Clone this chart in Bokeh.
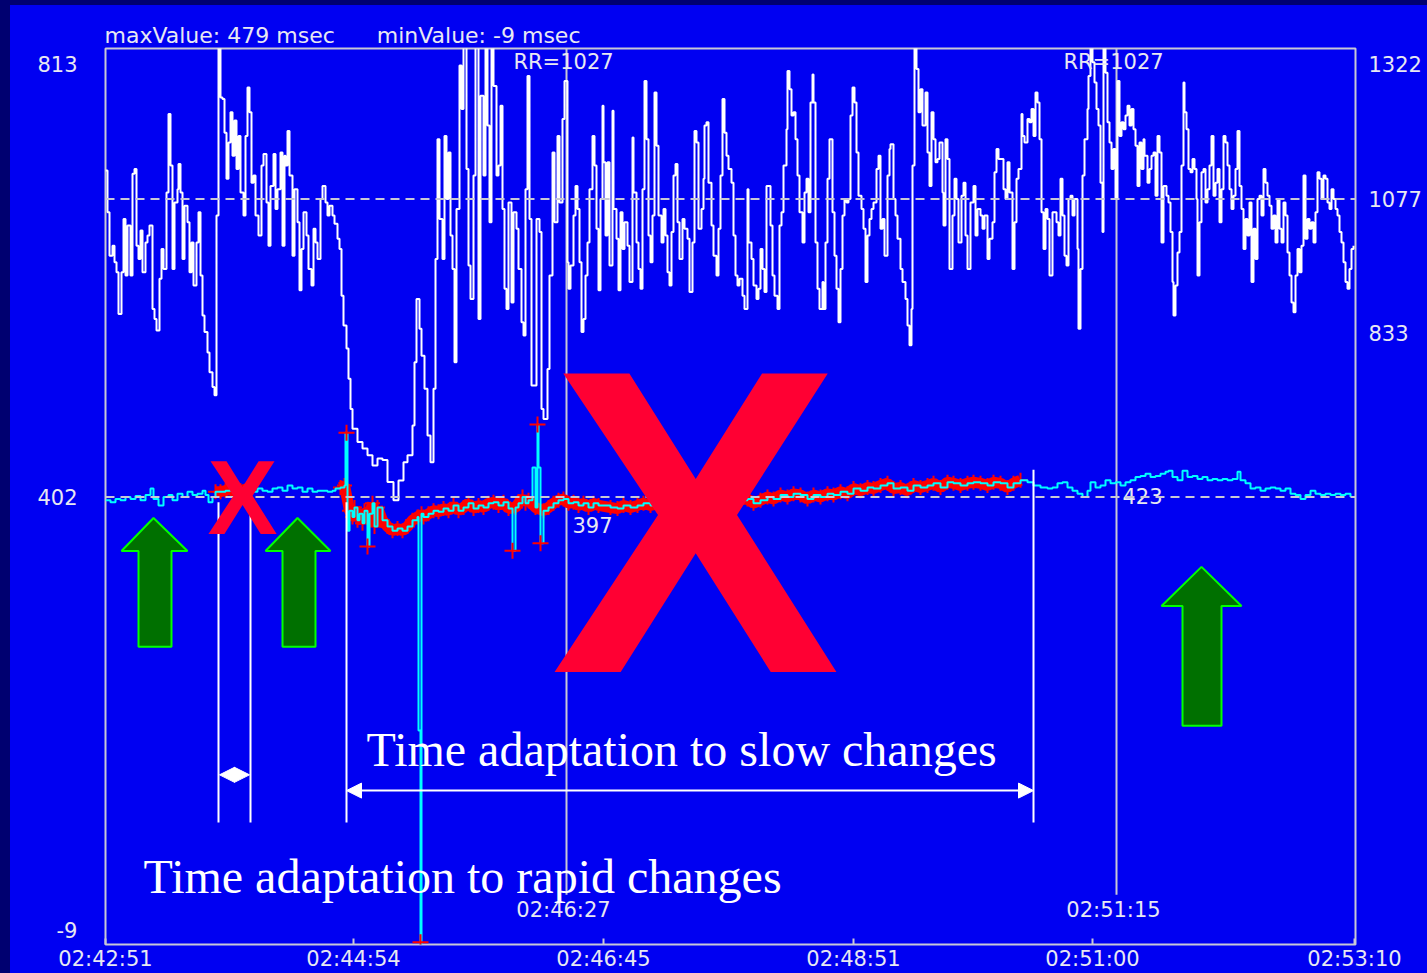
import statistics
from bokeh.plotting import figure
from bokeh.models import Range1d, LinearAxis, FixedTicker, Label, Arrow, NormalHead
from bokeh.core.properties import value
from bokeh.embed import file_html
from bokeh.resources import INLINE

# ---------------- data ----------------
# RR intervals (white trace, right axis), x = beat sample index
rr_beat = [0,2,4,7,9,11,13,16,18,20,22,25,27,29,31,33,35,37,40,42,44,47,49,51,54,56,58,61,63,65,
           67,69,72,73,75,77,79,82,84,86,88,91,93,95,97,99,102,104,107,109,111,113,115,117,119,121,123,125,127,129,
           131,133,135,138,140,142,144,146,148,150,153,156,158,161,163,165,168,170,172,175,177,179,180,182,184,187,189,192,194,196,
           198,201,203,206,208,210,212,215,217,220,222,224,227,229,232,234,236,238,241,243,245,247,252,257,262,267,272,277,282,288,
           293,298,302,307,309,311,314,316,319,322,325,328,330,332,334,337,339,341,343,345,347,349,351,354,356,358,361,363,365,368,
           370,373,375,378,380,382,384,386,388,391,393,395,397,399,401,403,406,408,411,413,416,418,420,422,424,426,429,431,434,436,
           438,442,444,
           447,449,452,454,457,459,462,463,465,468,470,472,474,476,478,480,482,484,487,489,491,493,495,497,498,500,502,504,507,508,
           511,513,515,517,519,522,524,527,528,531,533,535,537,539,541,543,545,547,549,551,553,556,558,560,562,564,566,568,570,572,
           574,577,579,582,584,587,589,591,593,596,598,599,601,603,606,608,611,613,615,617,619,621,623,626,628,630,632,634,637,639,
           642,643,646,648,651,653,655,657,659,661,663,665,667,669,672,674,676,678,681,682,684,686,688,690,692,694,697,699,701,703,
           705,707,708,710,712,714,717,718,720,722,724,727,729,731,733,735,737,739,741,743,745,747,749,751,753,756,758,760,762,764,
           766,768,771,773,775,777,779,782,784,785,788,790,792,795,797,800,802,804,806,807,809,811,813,815,817,820,822,824,826,828,
           830,832,834,837,838,840,842,844,847,849,851,853,856,858,860,862,865,868,870,872,875,877,879,882,884,887,889,891,893,
           898,900,902,904,907,909,911,913,916,917,919,922,924,926,928,930,932,934,936,938,940,942,944,947,951,953,955,957,959,961,
           963,965,967,969,972,973,975,977,979,982,983,985,987,989,991,993,995,997,998,1000,1002,1004,1006,1008,1010,1012,1014,1016,1018,1020,
           1022,1024,1026,1028,1030,1032,1034,1036,1038,1039,1042,1044,1046,1048,1050,1052,1054,1056,1058,1061,1063,1065,1067,1068,1070,1072,1074,1076,1078,1079,
           1081,1083,1085,1087,1089,1091,1092,1094,1096,1098,1100,1102,1104,1106,1108,1110,1112,1114,1116,1118,1120,1122,1124,1126,1128,1130,1132,1134,1136,1138,
           1140,1142,1144,1146,1148,1150,1152,1154,1156,1158,1160,1162,1164,1166,1168,1170,1172,1174,1176,1178,1180,1182,1184,1186,1188,1190,1192,1194,1196,1198,
           1200,1202,1204,1206,1208,1210,1212,1214,1216,1218,1220,1222,1224,1226,1228,1230,1232,1234,1236,1238,1240,1242,1244,1246,1248]
rr_msec = [1129,1053,974,992,962,944,868,944,1041,938,1029,938,1123,1132,992,968,1020,944,998,1011,1029,877,859,838,932,986,950,1089,1232,1138,
           950,1071,1095,1141,1089,968,1065,1035,944,998,920,998,1053,938,865,835,798,762,735,720,1047,1365,1262,1259,1198,1114,1180,1235,1156,1220,
           1132,1192,1089,1047,1192,1280,1235,1107,1120,1047,1011,1138,1159,1071,992,1101,1159,1059,1095,1162,992,1156,1138,1201,1120,974,1095,1035,911,986,
           1053,1011,950,920,1023,998,968,1077,1101,1071,1047,1065,1047,1032,1005,986,901,847,805,750,695,659,635,623,611,592,605,602,562,529,
           565,598,611,665,780,895,841,792,732,647,598,732,968,1186,1041,968,1192,1077,1162,1011,950,780,1059,1320,1241,1365,1132,956,895,1120,
           1365,859,1265,1120,1365,1211,1035,1365,1283,1120,1138,1247,1059,914,877,1071,889,1053,1023,950,853,829,1095,1301,1041,738,738,1041,1017,695,
           677,768,938,
           1162,1035,1192,1071,1223,1292,962,914,956,1047,1101,1059,962,835,859,938,998,1095,1192,1138,1023,911,1077,1247,1144,1011,1144,956,1238,1059,
           1005,911,1053,986,1035,992,926,1189,1089,998,950,914,1095,1292,1186,1011,962,1047,1271,1174,1047,998,1059,1011,944,920,1017,1120,1141,1035,
           968,1041,1023,1005,908,998,1201,1180,1023,1059,1114,1211,1217,1107,1029,974,938,1023,1120,1259,1198,1156,1132,1107,1011,938,920,932,901,877,
           1095,998,968,920,895,914,986,950,908,1101,1101,1029,938,901,877,1029,1053,1138,1204,1310,1277,1229,1235,1186,1120,1053,998,1089,1114,1053,
           1253,1304,1253,998,914,877,926,877,998,1114,1186,1053,974,914,853,950,1047,1077,1071,1077,1229,1280,1253,1162,1083,1059,1023,926,1011,1041,
           1059,1071,1132,1156,1023,1041,974,1120,1168,1177,1077,1047,1005,950,926,895,847,811,877,1138,1365,1314,1235,1277,1211,1271,1162,1101,1235,1186,
           1144,1150,1180,1089,1029,1186,1150,950,1047,1114,1077,998,1083,1107,1011,950,1071,1101,1011,1059,1047,1023,1047,968,1005,1035,1126,1168,1150,
           1095,1077,1144,1089,950,1035,1114,1132,1232,1192,1180,1223,1217,1241,1192,1271,1253,1186,1053,986,1059,1041,938,1053,1035,1011,1114,1047,974,956,
           1077,1083,1047,1077,986,841,950,1120,1186,1241,1301,1365,1326,1289,1241,1211,1107,1017,1365,1307,1217,1180,1132,1168,1077,1292,1192,1217,1204,1229,
           1247,1211,1241,1204,1174,1101,1180,1132,1186,1156,1107,1132,1156,1162,1083,1192,1162,998,1101,1083,1071,1017,926,865,920,980,1017,1138,1289,1235,
           1204,1132,1126,1150,1132,1077,938,1035,1126,1132,1071,1095,1138,1192,1083,1107,1132,1035,1095,1192,1180,1138,1095,1059,1083,1132,1201,1101,1059,986,
           1041,1011,1071,926,1023,968,1077,1083,1047,1132,1107,1083,1065,1023,1047,998,1077,1023,998,1071,1047,980,938,889,871,938,986,944,992,1120,
           1005,1041,1023,1035,998,1053,1126,1114,1077,1120,1114,1071,1059,1095,1077,1059,1047,1017,998,962,926,914,950,986,992]

# lower trace (cyan, left axis)
dev_beat = [0,5,10,15,20,25,30,35,40,45,48,53,58,63,67,72,77,82,87,92,
            97,100,103,107,110,115,120,125,130,135,142,147,152,157,162,167,172,177,182,187,
            192,197,202,207,212,217,222,227,230,235,239,240,242,244,247,249,252,254,257,259,
            262,264,267,269,272,277,282,287,292,297,302,307,312,313,315,316,318,323,328,333,
            338,343,348,353,358,363,368,373,378,383,388,393,398,403,407,410,413,417,420,423,
            427,430,432,433,435,438,443,448,453,458,463,468,473,478,483,488,493,
            505,512,518,525,532,538,545,555,572,588,605,622,642,648,655,662,668,675,682,688,
            695,702,708,715,722,728,735,742,748,755,762,768,775,782,788,795,802,808,815,822,
            828,835,842,848,855,862,868,875,882,888,895,902,908,915,922,928,935,942,
            947,952,957,962,967,972,977,982,985,990,995,1000,1005,1010,1015,1020,1025,1030,1035,1040,
            1045,1050,1055,1060,1063,1067,1072,1077,1082,1087,1092,1097,1102,1107,1112,1117,1122,1127,1132,1135,
            1140,1145,1150,1155,1160,1165,1170,1175,1180,1185,1190,1195,1200,1205,1210,1215,1220,1225,1230,1235,
            1240,1245]
dev_msec = [399,397,400,399,402,400,403,399,404,410,400,394,402,404,399,405,402,407,404,405,
            408,404,397,402,407,407,408,410,407,408,410,407,410,408,407,410,411,408,413,410,
            411,407,410,407,408,408,407,408,410,411,413,463,370,389,383,392,380,386,377,389,
            355,386,396,374,392,380,374,370,372,370,374,380,383,180,-23,386,383,386,389,388,
            391,389,394,389,392,396,391,394,392,396,397,394,397,391,351,392,396,402,396,399,
            430,392,471,430,358,389,392,396,399,400,396,397,394,396,392,396,394,
            392,391,394,392,394,396,394,396,397,397,399,399,400,396,399,402,400,404,402,405,
            404,400,404,402,405,404,407,405,410,408,411,410,413,415,410,411,408,413,411,413,
            415,411,416,415,413,415,416,415,413,416,415,411,415,418,416,413,411,410,
            411,415,416,411,408,405,402,408,416,411,413,418,415,416,413,416,418,421,422,424,
            421,422,424,426,427,421,418,427,421,422,419,421,418,419,418,419,418,419,426,418,
            415,410,411,408,410,411,410,408,410,405,404,400,404,408,405,404,405,404,405,404,
            405,402]

red_spans = [(110, 145), (232, 915)]
spike_beat = [241, 262, 315, 407, 432, 435]
spike_msec = [463, 355, -21, 351, 471, 358]

time_ticks = [0, 248, 498, 748, 987, 1249]
time_labels = ["02:42:51", "02:44:54", "02:46:45", "02:48:51", "02:51:00", "02:53:10"]
left_ticks = [813, 402, -9]
right_ticks = [1322, 1077, 833]
left_ref = 402
rr_ref = 1077

cursor_beat = [461, 1011]
cursor_time = ["02:46:27", "02:51:15"]
cursor_rr = ["RR=1027", "RR=1027"]
cursor_val_text = ["397", "423"]
cursor_val = [375.4, 402.9]

# annotation anchors (data units)
mark_beat = [113, 145, 241, 928]
mark_top = [397, 397, 397, 428]
mark_bottom = 92.6
rapid_span = (114, 144, 138)
slow_span = (241, 928, 123)
green_arrows = [  # tip_x, head_l, head_r, shaft_l, shaft_r, tip_y, neck_y, base_y
    (48, 16, 82, 33, 66, 382.1, 350.7, 259.6),
    (192, 160, 225, 177, 210, 382.1, 350.7, 259.6),
    (1096, 1056, 1136, 1077, 1116, 335.6, 298.5, 184.6),
]

# ---------------- styling ----------------
BG = "#0000F2"
NAVY = "#000070"
FRAME = "#C8C8D6"
TXT = "#E8E8F2"
SMALL_FONT = "DejaVu Sans"

p = figure(width=1427, height=973, x_range=Range1d(0, 1250), y_range=Range1d(-23.24, 828.19),
           output_backend="svg", toolbar_location=None,
           min_border_left=105, min_border_right=72, min_border_top=48, min_border_bottom=28,
           background_fill_color=BG, border_fill_color=None,
           outline_line_color=FRAME, outline_line_width=2)
p.styles = {"background": "linear-gradient(to right, %s 0px, %s 10px, transparent 10px), "
                          "linear-gradient(to bottom, %s 0px, %s 5px, %s 5px)" % (NAVY, NAVY, NAVY, NAVY, BG)}
p.xgrid.visible = False
p.ygrid.visible = False
p.extra_y_ranges = {"rr": Range1d(-279.5, 1351.1)}

p.title.text = "maxValue: 479 msec" + "\u00a0" * 6 + "minValue: -9 msec"
p.title.text_color = TXT
p.title.text_font = SMALL_FONT
p.title.text_font_size = "22px"
p.title.text_font_style = "normal"
p.title.align = "left"
p.title.offset = -1
p.title.standoff = 2

def style_axis(ax):
    ax.axis_line_color = None
    ax.minor_tick_line_color = None
    ax.major_label_text_color = TXT
    ax.major_label_text_font = SMALL_FONT
    ax.major_label_text_font_size = "21px"

xa = p.xaxis[0]
style_axis(xa)
xa.ticker = FixedTicker(ticks=time_ticks)
xa.major_label_overrides = {t: l for t, l in zip(time_ticks, time_labels)}
xa.major_tick_in = 6
xa.major_tick_out = 0
xa.major_tick_line_color = FRAME
xa.major_tick_line_width = 2
xa.major_label_standoff = 2

ya = p.yaxis[0]
style_axis(ya)
ya.ticker = FixedTicker(ticks=left_ticks)
ya.major_label_overrides = {t: str(t) for t in left_ticks}
ya.major_tick_line_color = None
ya.major_tick_in = 0
ya.major_tick_out = 0
ya.major_label_standoff = 28

ra = LinearAxis(y_range_name="rr")
style_axis(ra)
ra.ticker = FixedTicker(ticks=right_ticks)
ra.major_label_overrides = {t: str(t) for t in right_ticks}
ra.major_tick_line_color = None
ra.major_tick_in = 0
ra.major_tick_out = 0
ra.major_label_standoff = 13
p.add_layout(ra, "right")

# cursor lines
p.segment(x0=cursor_beat, y0=[24] * 2, x1=cursor_beat, y1=[p.y_range.end] * 2,
          line_color=FRAME, line_width=2)

# RR trace
p.step(rr_beat, rr_msec, mode="after", y_range_name="rr", line_color="white", line_width=2)

# red band along lower trace (non-spike points inside the red spans)
def is_spike(i):
    window = dev_msec[max(0, i - 3): i + 4]
    return abs(dev_msec[i] - statistics.median(window)) > 15

band_xs, band_ys = [], []
for a, b in red_spans:
    xs, ys = [], []
    for i, (x, v) in enumerate(zip(dev_beat, dev_msec)):
        if a <= x <= b and not is_spike(i):
            xs.append(x)
            ys.append(v)
    band_xs.append(xs)
    band_ys.append(ys)
p.multi_line(band_xs, band_ys, line_color="#FF0000", line_width=11)
p.scatter([x for xs in band_xs for x in xs], [y for ys in band_ys for y in ys],
          marker="cross", size=15, line_color="#FF0000", line_width=2)

p.step(dev_beat, dev_msec, mode="after", line_color="#00FFFF", line_width=2)
p.scatter(spike_beat, spike_msec, marker="cross", size=16, line_color="#FF0000", line_width=2)

# dashed reference lines
p.add_layout(Arrow(start=None, end=None, x_start=0, y_start=left_ref, x_end=1250, y_end=left_ref,
                   line_color=FRAME, line_width=2, line_dash="9 6"))
p.add_layout(Arrow(start=None, end=None, x_start=0, y_start=rr_ref, x_end=1250, y_end=rr_ref,
                   y_range_name="rr", line_color=FRAME, line_width=2, line_dash="9 6"))

# cursor texts
p.text(x=cursor_beat, y=[814.9] * 2, text=cursor_rr, text_font=value(SMALL_FONT), text_font_size="21px",
       text_color=TXT, text_align="center", text_baseline="middle", x_offset=-3)
p.text(x=cursor_beat, y=[10.0] * 2, text=cursor_time, text_font=value(SMALL_FONT), text_font_size="21px",
       text_color=TXT, text_align="center", text_baseline="middle", x_offset=-3)
p.text(x=cursor_beat, y=cursor_val, text=cursor_val_text, text_font=value(SMALL_FONT), text_font_size="21px",
       text_color=TXT, text_align="left", text_baseline="middle", x_offset=6)

# white annotation lines
p.segment(x0=mark_beat, y0=mark_top, x1=mark_beat, y1=[mark_bottom] * len(mark_beat),
          line_color="white", line_width=2)

# green arrows
gx, gy = [], []
for tx, hl, hr, sl, sr, ty, ny, by in green_arrows:
    gx.append([tx, hr, sr, sr, sl, sl, hl])
    gy.append([ty, ny, ny, by, by, ny, ny])
p.patches(gx, gy, fill_color="#007000", line_color="#00FF00", line_width=2)

# double arrows
for x0, x1, yy in [rapid_span, slow_span]:
    p.add_layout(Arrow(x_start=x0, y_start=yy, x_end=x1, y_end=yy, line_color="white", line_width=2,
                       start=NormalHead(size=15, fill_color="white", line_color="white"),
                       end=NormalHead(size=15, fill_color="white", line_color="white")))

# big red crosses
p.add_layout(Label(x=137, y=401.1, text="X", text_font="Liberation Sans", text_font_style="bold",
                   text_font_size="105px", text_color="#FF0033", text_align="center", text_baseline="alphabetic"))
p.add_layout(Label(x=590, y=378.7, text="X", text_font="Liberation Sans", text_font_style="bold",
                   text_font_size="434px", text_color="#FF0033", text_align="center", text_baseline="alphabetic"))

# slide texts
p.add_layout(Label(x=261, y=161.9, text="Time adaptation to slow changes", text_font="Liberation Serif",
                   text_font_size="48px", text_color="white", text_baseline="alphabetic"))
p.add_layout(Label(x=38, y=41.3, text="Time adaptation to rapid changes", text_font="Liberation Serif",
                   text_font_size="48px", text_color="white", text_baseline="alphabetic"))

open("out.html", "w").write(file_html(p, INLINE))
